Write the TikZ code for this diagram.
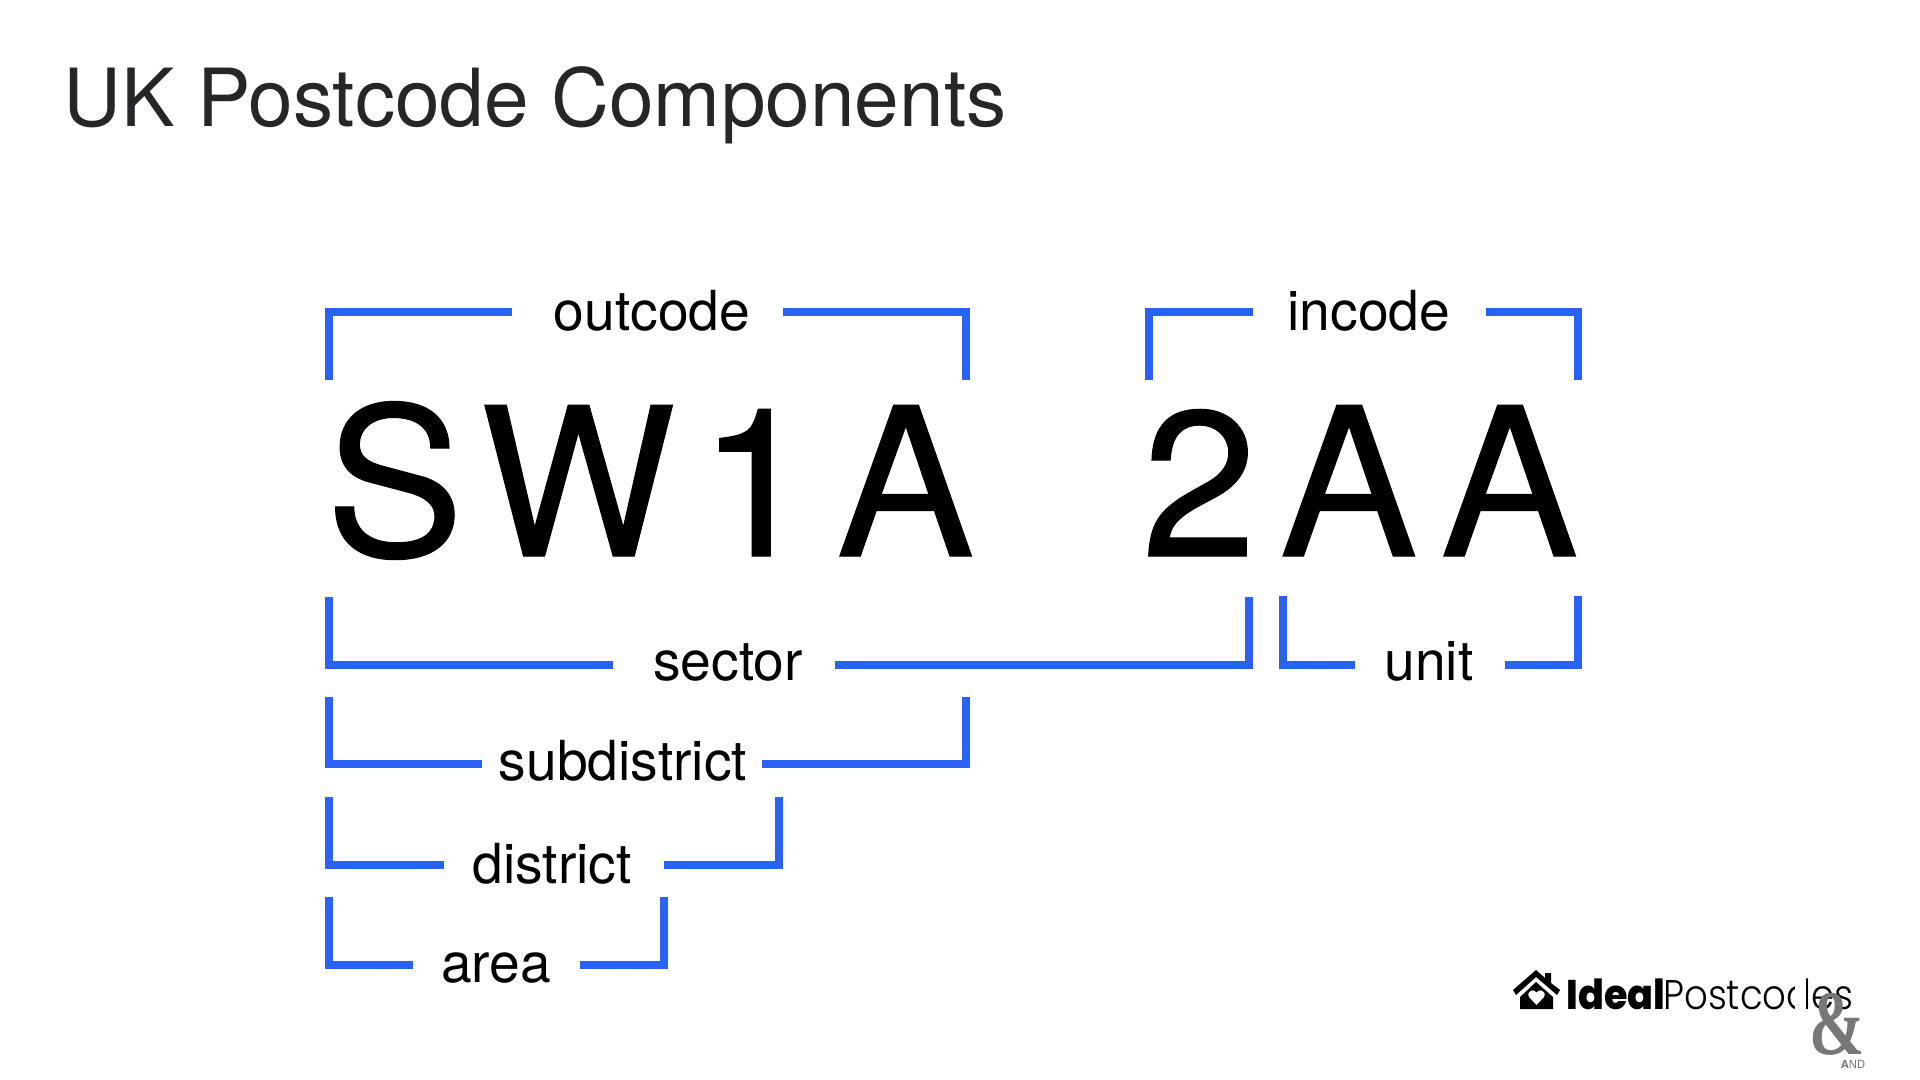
\documentclass[tikz,border=0pt]{standalone}
\usepackage{fontspec}
\setmainfont{TeX Gyre Heros}
\newfontfamily\logobold{Poppins}[UprightFont=* ExtraBold]
\newfontfamily\logolight{Poppins}[UprightFont=* Light]
\newfontfamily\ampfont{Liberation Serif}[UprightFont=* Bold]
\definecolor{bracketblue}{HTML}{2962F5}
\definecolor{titlegray}{HTML}{262628}
\definecolor{ampgray}{HTML}{777777}
\tikzset{
    tag/.style={anchor=base,inner sep=0pt,text=black,font=\fontsize{27.6}{30}\selectfont},
    code/.style={anchor=base,inner sep=0pt,text=black,font=\fontsize{103.5}{110}\selectfont\addfontfeature{LetterSpace=11,FakeBold=0.5}},
    bracket/.style={draw=bracketblue,line width=4pt,line join=miter}
}
\begin{document}
\begin{tikzpicture}[x=0.5pt,y=-0.5pt]
    \useasboundingbox (0,0) rectangle (1920,1080);
    \fill[white] (0,0) rectangle (1920,1080);
    % title
    \node[anchor=base west,inner sep=0pt,text=titlegray,font=\fontsize{40.1}{44}\selectfont] (title) at (63,127) {UK Postcode Components};

    % postcode
    \node[code] (out) at (650,556) {SW1A};
    \node[code] (in) at (1360,556) {2AA};

    % labels
    \node[tag] (outcode) at (652,330) {outcode};
    \node[tag] (incode) at (1369,330) {incode};
    \node[tag] (sector) at (728,680) {sector};
    \node[tag] (unit) at (1429,680) {unit};
    \node[tag] (subdistrict) at (623,780) {subdistrict};
    \node[tag] (district) at (552,883) {district};
    \node[tag] (area) at (496,982.5) {area};

    % bracket ends
    \coordinate (o1) at (329,379.5); \coordinate (o2) at (511.5,311.7);
    \coordinate (o3) at (783,311.7); \coordinate (o4) at (965.6,379.5);
    \coordinate (i1) at (1149.3,379.5); \coordinate (i2) at (1252.7,311.7);
    \coordinate (i3) at (1485.7,311.7); \coordinate (i4) at (1577.7,379.5);
    \coordinate (s1) at (329,597.3); \coordinate (s2) at (613.4,665);
    \coordinate (s3) at (834.8,665); \coordinate (s4) at (1249,597.3);
    \coordinate (u1) at (1283,596); \coordinate (u2) at (1355,665);
    \coordinate (u3) at (1505,665); \coordinate (u4) at (1577.7,596);
    \coordinate (b1) at (329,697); \coordinate (b2) at (482,764.3);
    \coordinate (b3) at (762,764.3); \coordinate (b4) at (965.6,697);
    \coordinate (d1) at (329,797); \coordinate (d2) at (443.8,864.7);
    \coordinate (d3) at (663.8,864.7); \coordinate (d4) at (779,797);
    \coordinate (a1) at (329,897.3); \coordinate (a2) at (413,965);
    \coordinate (a3) at (580,965); \coordinate (a4) at (664.3,897.3);

    \draw[bracket] (o1) |- (o2); \draw[bracket] (o3) -| (o4);
    \draw[bracket] (i1) |- (i2); \draw[bracket] (i3) -| (i4);
    \draw[bracket] (s1) |- (s2); \draw[bracket] (s3) -| (s4);
    \draw[bracket] (u1) |- (u2); \draw[bracket] (u3) -| (u4);
    \draw[bracket] (b1) |- (b2); \draw[bracket] (b3) -| (b4);
    \draw[bracket] (d1) |- (d2); \draw[bracket] (d3) -| (d4);
    \draw[bracket] (a1) |- (a2); \draw[bracket] (a3) -| (a4);

    % logo
    \fill[black] (1513,990) -- (1536,970) -- (1545,978) -- (1545,973) -- (1551,973) -- (1551,983) -- (1560,990) -- (1557,995) -- (1536,977) -- (1516,995) -- cycle;
    \fill[black] (1520,997) -- (1536,982) -- (1553,997) -- (1553,1009) -- (1520,1009) -- cycle;
    \fill[white] (1536.5,1005) -- (1529,997) .. controls (1526,991) and (1534,988) .. (1536.5,992.5) .. controls (1539,988) and (1547,991) .. (1544,997) -- cycle;
    \node[anchor=base west,inner sep=0pt,xscale=0.92,font=\logobold\fontsize{20.7}{22}\selectfont] (ideal) at (1566,1009) {Ideal};
    \node[anchor=base west,inner sep=0pt,xscale=0.895,font=\logolight\fontsize{20.7}{22}\selectfont] (postcodes) at (1663,1009) {Postcodes};
    \fill[white] (1795,975) rectangle (1806,1012);
    \node[anchor=base,inner sep=0pt,xscale=0.72,text=ampgray,font=\ampfont\fontsize{46}{50}\selectfont] (amp) at (1837,1054) {\&};
    \node[anchor=base,inner sep=0pt,text=ampgray,font=\fontsize{5.6}{6}\selectfont] (and) at (1853,1068) {\textbf{A}ND};
\end{tikzpicture}
\end{document}
